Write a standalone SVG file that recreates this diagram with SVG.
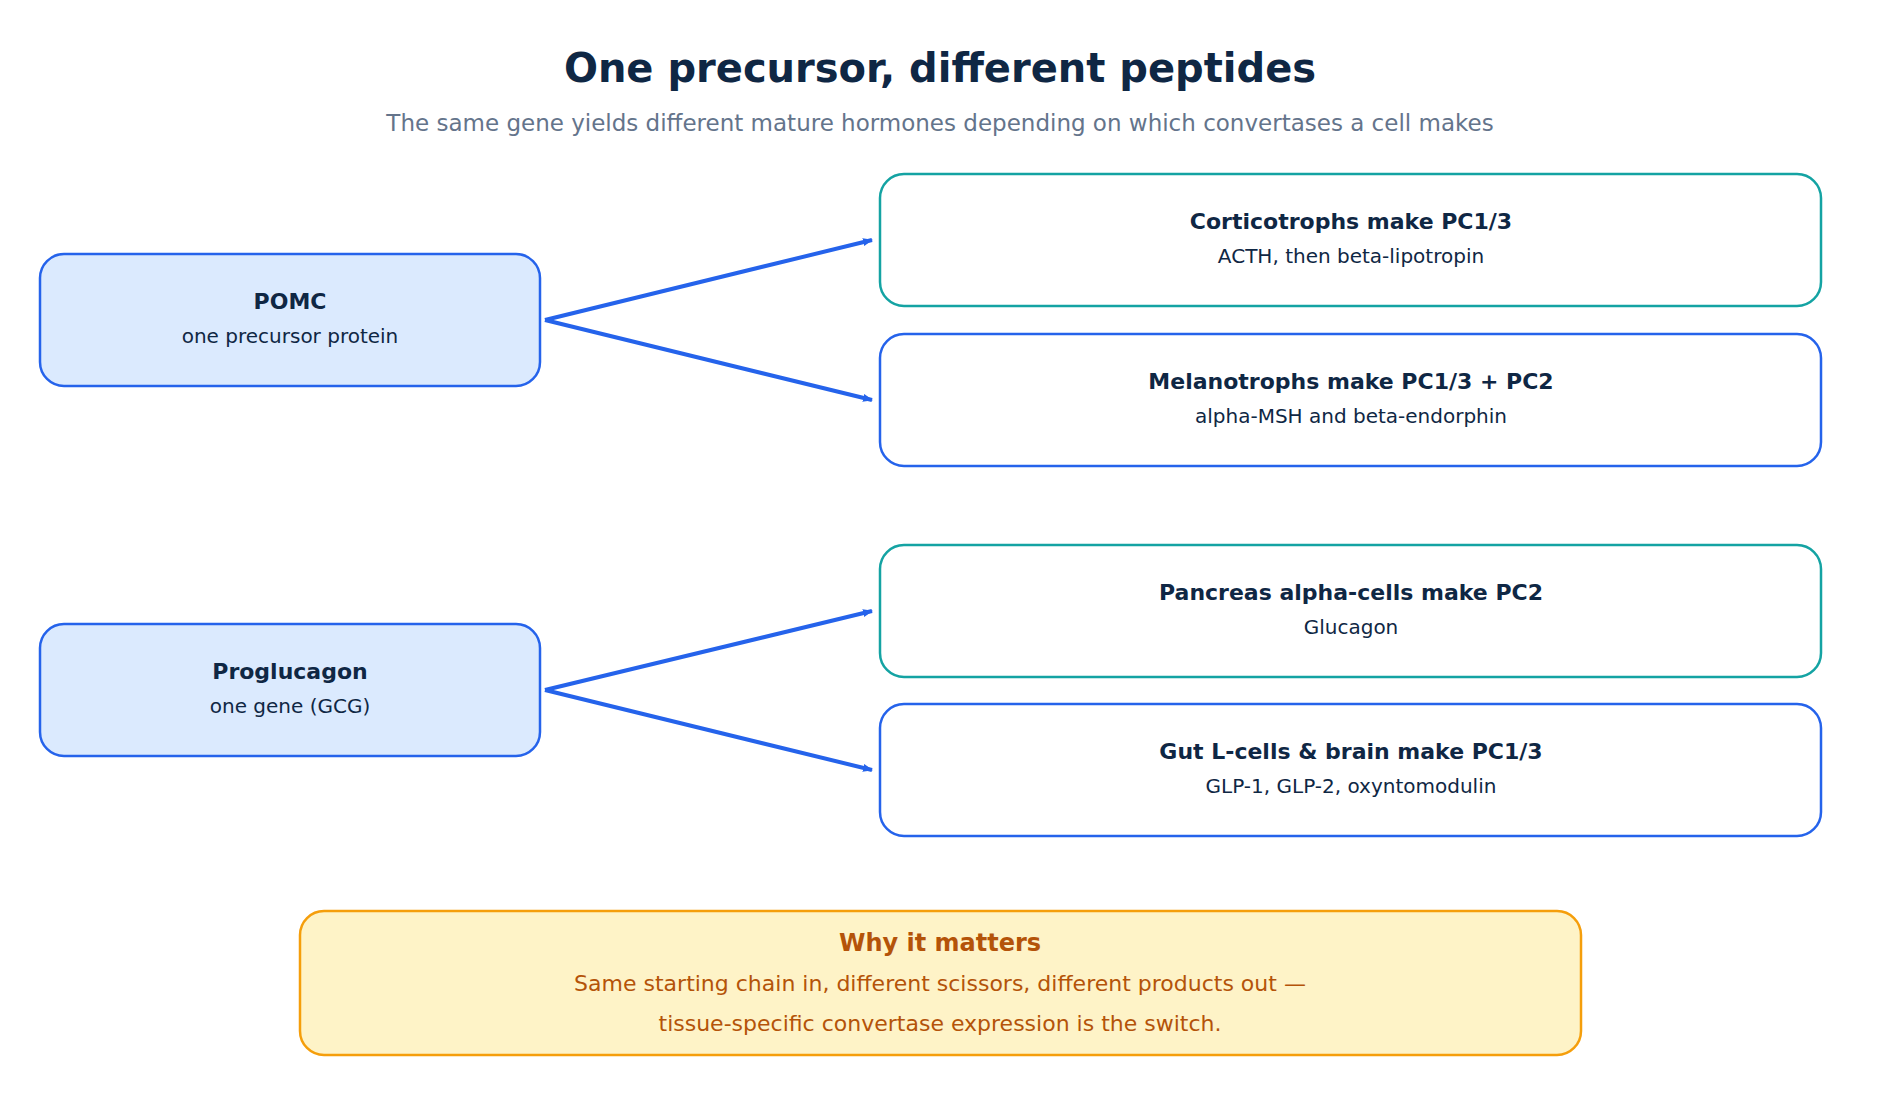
<svg xmlns="http://www.w3.org/2000/svg" width="1880" height="1120" viewBox="0 0 1880 1120">
<defs>
<marker id="ah" markerWidth="10" markerHeight="8" refX="9" refY="4" orient="auto" markerUnits="userSpaceOnUse"><path d="M0,0 L10,4 L0,8 Z" fill="#2563eb"/></marker>
<style>
text{font-family:"DejaVu Sans",sans-serif;text-anchor:middle}
.t{font-size:22px;font-weight:bold;fill:#0f2744}
.s{font-size:20px;fill:#0f2744}
.src{fill:#dbeafe;stroke:#2563eb;stroke-width:2.5}
.b{fill:#fff;stroke:#2563eb;stroke-width:2.5}
.g{fill:#fff;stroke:#14a3a3;stroke-width:2.5}
.c{stroke:#2563eb;stroke-width:4;fill:none;marker-end:url(#ah)}
</style>
</defs>
<rect width="1880" height="1120" fill="#fff"/>
<text x="940" y="82" font-size="40" font-weight="bold" fill="#0f2744">One precursor, different peptides</text>
<text x="940" y="131" font-size="23" fill="#64748b">The same gene yields different mature hormones depending on which convertases a cell makes</text>
<g id="connectors">
<line class="c" x1="545" y1="320" x2="872" y2="240"/>
<line class="c" x1="545" y1="320" x2="872" y2="400"/>
<line class="c" x1="545" y1="690" x2="872" y2="611"/>
<line class="c" x1="545" y1="690" x2="872" y2="770"/>
</g>
<g id="pomc"><rect class="src" x="40" y="254" width="500" height="132" rx="24"/><text class="t" x="290" y="309">POMC</text><text class="s" x="290" y="343">one precursor protein</text></g>
<g id="proglucagon"><rect class="src" x="40" y="624" width="500" height="132" rx="24"/><text class="t" x="290" y="679">Proglucagon</text><text class="s" x="290" y="713">one gene (GCG)</text></g>
<g id="cortico"><rect class="g" x="880" y="174" width="941" height="132" rx="24"/><text class="t" x="1351" y="229">Corticotrophs make PC1/3</text><text class="s" x="1351" y="263">ACTH, then beta-lipotropin</text></g>
<g id="melano"><rect class="b" x="880" y="334" width="941" height="132" rx="24"/><text class="t" x="1351" y="389">Melanotrophs make PC1/3 + PC2</text><text class="s" x="1351" y="423">alpha-MSH and beta-endorphin</text></g>
<g id="alpha"><rect class="g" x="880" y="545" width="941" height="132" rx="24"/><text class="t" x="1351" y="600">Pancreas alpha-cells make PC2</text><text class="s" x="1351" y="634">Glucagon</text></g>
<g id="lcells"><rect class="b" x="880" y="704" width="941" height="132" rx="24"/><text class="t" x="1351" y="759">Gut L-cells &amp; brain make PC1/3</text><text class="s" x="1351" y="793">GLP-1, GLP-2, oxyntomodulin</text></g>
<g id="why"><rect x="300" y="911" width="1281" height="144" rx="24" fill="#fef3c7" stroke="#f59e0b" stroke-width="2.5"/>
<text x="940" y="951" font-size="24" font-weight="bold" fill="#b45309">Why it matters</text>
<text x="940" y="991" font-size="22" fill="#b45309">Same starting chain in, different scissors, different products out —</text>
<text x="940" y="1031" font-size="22" fill="#b45309">tissue-specific convertase expression is the switch.</text></g>
</svg>
